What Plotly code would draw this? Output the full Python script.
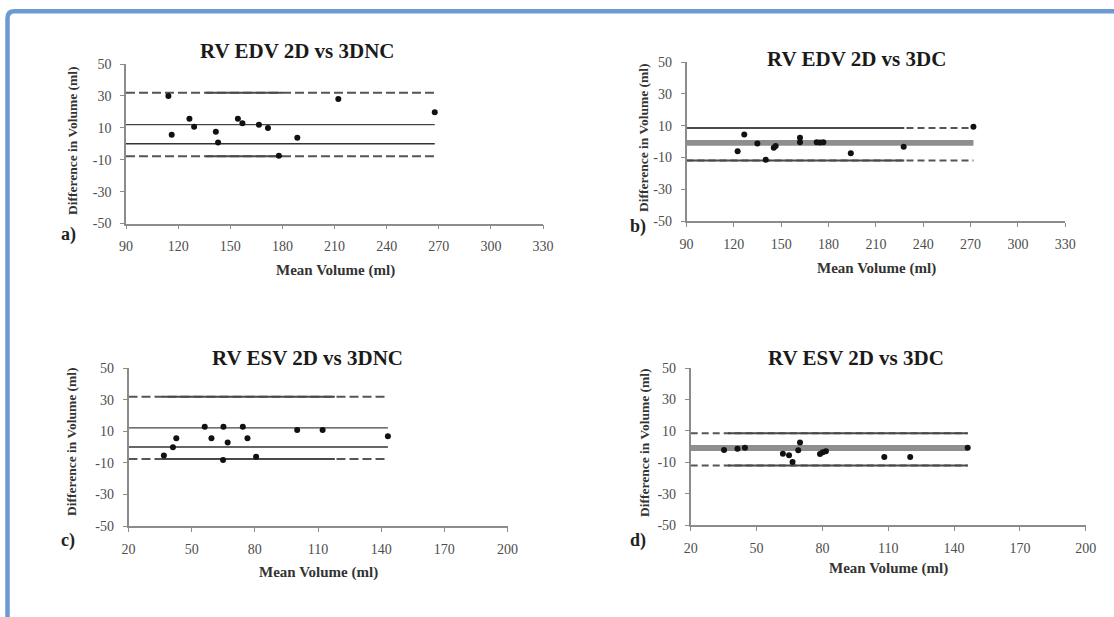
import plotly.graph_objects as go

W, H = 1114, 617
SERIF = "Liberation Serif"

# ---- data -----------------------------------------------------------------
# a) RV EDV 2D vs 3DNC
a_mean_vol = [114.4, 116.3, 126.5, 129.2, 141.7, 143.0, 154.4, 157.0, 166.5,
              171.7, 178.0, 188.6, 212.2, 267.7]
a_diff = [29.9, 5.6, 15.7, 10.6, 7.5, 0.8, 15.7, 12.8, 11.9, 9.8, -7.6, 3.7,
          28.0, 19.7]
a_bias, a_upper, a_lower = 12.0, 31.9, -7.9
a_solid_span = [136, 180]

# b) RV EDV 2D vs 3DC
b_mean_vol = [122.4, 126.6, 134.9, 140.2, 145.3, 146.5, 161.9, 161.9, 172.5,
              174.6, 176.7, 194.1, 227.6, 271.8]
b_diff = [-6.2, 4.4, -1.3, -11.5, -3.9, -2.9, 2.4, -0.5, -0.5, -0.7, -0.5,
          -7.4, -3.3, 9.3]
b_bias, b_upper, b_lower = -1.7, 8.5, -11.9
b_solid_span = [90, 228]

# c) RV ESV 2D vs 3DNC
c_mean_vol = [36.8, 41.1, 42.7, 56.2, 59.4, 65.1, 64.9, 67.1, 74.3, 76.5,
              80.6, 100.1, 112.2, 143.2]
c_diff = [-5.4, -0.2, 5.6, 12.8, 5.6, 12.8, -8.3, 2.9, 12.8, 5.6, -6.2, 10.8,
          10.8, 6.8]
c_bias, c_upper, c_lower = 12.1, 31.8, -7.6
c_solid_span = [36, 118]

# d) RV ESV 2D vs 3DC
d_mean_vol = [35.2, 41.3, 44.7, 62.0, 64.8, 66.4, 69.0, 69.8, 78.9, 80.2,
              81.6, 108.2, 120.0, 146.2]
d_diff = [-2.3, -1.4, -0.8, -4.6, -5.5, -9.8, -2.4, 2.6, -4.8, -3.7, -3.1,
          -6.7, -6.7, -0.8]
d_bias, d_upper, d_lower = -1.8, 8.5, -12.1
d_solid_span = [37, 146.2]

edv_ticks = [90, 120, 150, 180, 210, 240, 270, 300, 330]
esv_ticks = [20, 50, 80, 110, 140, 170, 200]
diff_ticks = [-50, -30, -10, 10, 30, 50]
diff_tick_text = ["-50", "-30", "-10", "10", "30", "50"]

titles = ["RV EDV 2D vs 3DNC", "RV EDV 2D vs 3DC",
          "RV ESV 2D vs 3DNC", "RV ESV 2D vs 3DC"]
panel_tags = ["a)", "b)", "c)", "d)"]
x_label = "Mean Volume (ml)"
y_label = "Difference in Volume (ml)"

# ---- layout geometry (pixels) ---------------------------------------------
# plot boxes: left, right, top, bottom
boxes = [(126, 543, 64, 223.5), (686.5, 1065.3, 62, 221),
         (128.5, 507.5, 368, 526), (690.7, 1085.8, 368, 525)]
title_pos = [(297, 51), (856, 59), (307, 358), (856, 358)]
xtitle_pos = [(335, 270), (876, 268), (318, 572), (888, 568)]
ytitle_pos = [(72, 141), (643, 138), (71, 442), (644, 443)]
tag_pos = [(68, 234), (638, 227), (68, 540), (638, 540)]


def px(x):
    return x / W


def py(y):
    return 1 - y / H


fig = go.Figure()

panels = [
    (a_mean_vol, a_diff, a_bias, a_upper, a_lower, a_solid_span, edv_ticks, False),
    (b_mean_vol, b_diff, b_bias, b_upper, b_lower, b_solid_span, edv_ticks, True),
    (c_mean_vol, c_diff, c_bias, c_upper, c_lower, c_solid_span, esv_ticks, False),
    (d_mean_vol, d_diff, d_bias, d_upper, d_lower, d_solid_span, esv_ticks, True),
]

axis_font = dict(family=SERIF, size=14, color="#4d4d4d")

for i, (xs, ys, bias, up, lo, span, xt, banded) in enumerate(panels):
    n = "" if i == 0 else str(i + 1)
    xa, ya = "x" + n, "y" + n
    x0, x1 = xt[0], max(xs)
    line_kw = dict(xaxis=xa, yaxis=ya, mode="lines", showlegend=False,
                   hoverinfo="skip")

    dash = "9px,4px" if not banded else "7px,4px"
    # limits of agreement: dashed full length, solid through the middle
    for lim in (up, lo):
        fig.add_trace(go.Scatter(x=[x0, x1], y=[lim, lim],
                                 line=dict(color="#555555", width=2, dash=dash),
                                 **line_kw))
        fig.add_trace(go.Scatter(x=span, y=[lim, lim],
                                 line=dict(color="#4a4a4a", width=2),
                                 **line_kw))

    if banded:
        # zero line and bias drawn as a grey band
        for v in (0, bias):
            fig.add_trace(go.Scatter(x=[x0, x1], y=[v, v],
                                     line=dict(color="#8e8e8e", width=3.2),
                                     **line_kw))
    else:
        fig.add_trace(go.Scatter(x=[x0, x1], y=[0, 0],
                                 line=dict(color="#333333", width=1.6),
                                 **line_kw))
        fig.add_trace(go.Scatter(x=[x0, x1], y=[bias, bias],
                                 line=dict(color="#444444", width=1.3),
                                 **line_kw))

    fig.add_trace(go.Scatter(x=xs, y=ys, xaxis=xa, yaxis=ya, mode="markers",
                             marker=dict(color="#111111", size=6),
                             showlegend=False))

    l, r, t, b = boxes[i]
    common = dict(showgrid=False, zeroline=False, showline=True,
                  linecolor="#8c8c8c", linewidth=1.6, ticks="outside",
                  ticklen=4, tickwidth=1.2, tickcolor="#8c8c8c",
                  tickfont=axis_font, automargin=False)
    fig.update_layout(**{
        "xaxis" + n: dict(domain=[px(l), px(r)], range=[xt[0], xt[-1]],
                          tickvals=xt, anchor=ya, ticklabelstandoff=5,
                          **common),
        "yaxis" + n: dict(domain=[py(b), py(t)], range=[-50, 50],
                          tickvals=diff_ticks, ticktext=diff_tick_text,
                          anchor=xa, ticklabelstandoff=6, **common),
    })

    fig.add_annotation(text="<b>%s</b>" % titles[i], x=px(title_pos[i][0]),
                       y=py(title_pos[i][1]), xref="paper", yref="paper",
                       showarrow=False, xanchor="center", yanchor="middle",
                       font=dict(family=SERIF, size=21, color="#1a1a1a"))
    fig.add_annotation(text="<b>%s</b>" % x_label, x=px(xtitle_pos[i][0]),
                       y=py(xtitle_pos[i][1]), xref="paper", yref="paper",
                       showarrow=False, xanchor="center", yanchor="middle",
                       font=dict(family=SERIF, size=15, color="#333333"))
    fig.add_annotation(text="<b>%s</b>" % y_label, x=px(ytitle_pos[i][0]),
                       y=py(ytitle_pos[i][1]), xref="paper", yref="paper",
                       showarrow=False, xanchor="center", yanchor="middle",
                       textangle=-90,
                       font=dict(family=SERIF, size=13.5, color="#333333"))
    fig.add_annotation(text="<b>%s</b>" % panel_tags[i], x=px(tag_pos[i][0]),
                       y=py(tag_pos[i][1]), xref="paper", yref="paper",
                       showarrow=False, xanchor="center", yanchor="middle",
                       font=dict(family=SERIF, size=18, color="#222222"))

# blue frame along the top and left edges with a rounded corner
fx, fy, rad = px(7.5), py(11.3), 7
frame = ("M {x},{yb} L {x},{yr} Q {x},{y} {xr},{y} L {xe},{y}"
         .format(x=fx, yb=-0.02, yr=py(11.3 + rad), y=fy,
                 xr=px(7.5 + rad), xe=1.02))
fig.add_shape(type="path", path=frame, xref="paper", yref="paper",
              line=dict(color="#6b9bd1", width=4.5))

fig.update_layout(width=W, height=H,
                  margin=dict(l=0, r=0, t=0, b=0, pad=0, autoexpand=False),
                  paper_bgcolor="white", plot_bgcolor="white",
                  showlegend=False)

fig.write_html("out.html")
